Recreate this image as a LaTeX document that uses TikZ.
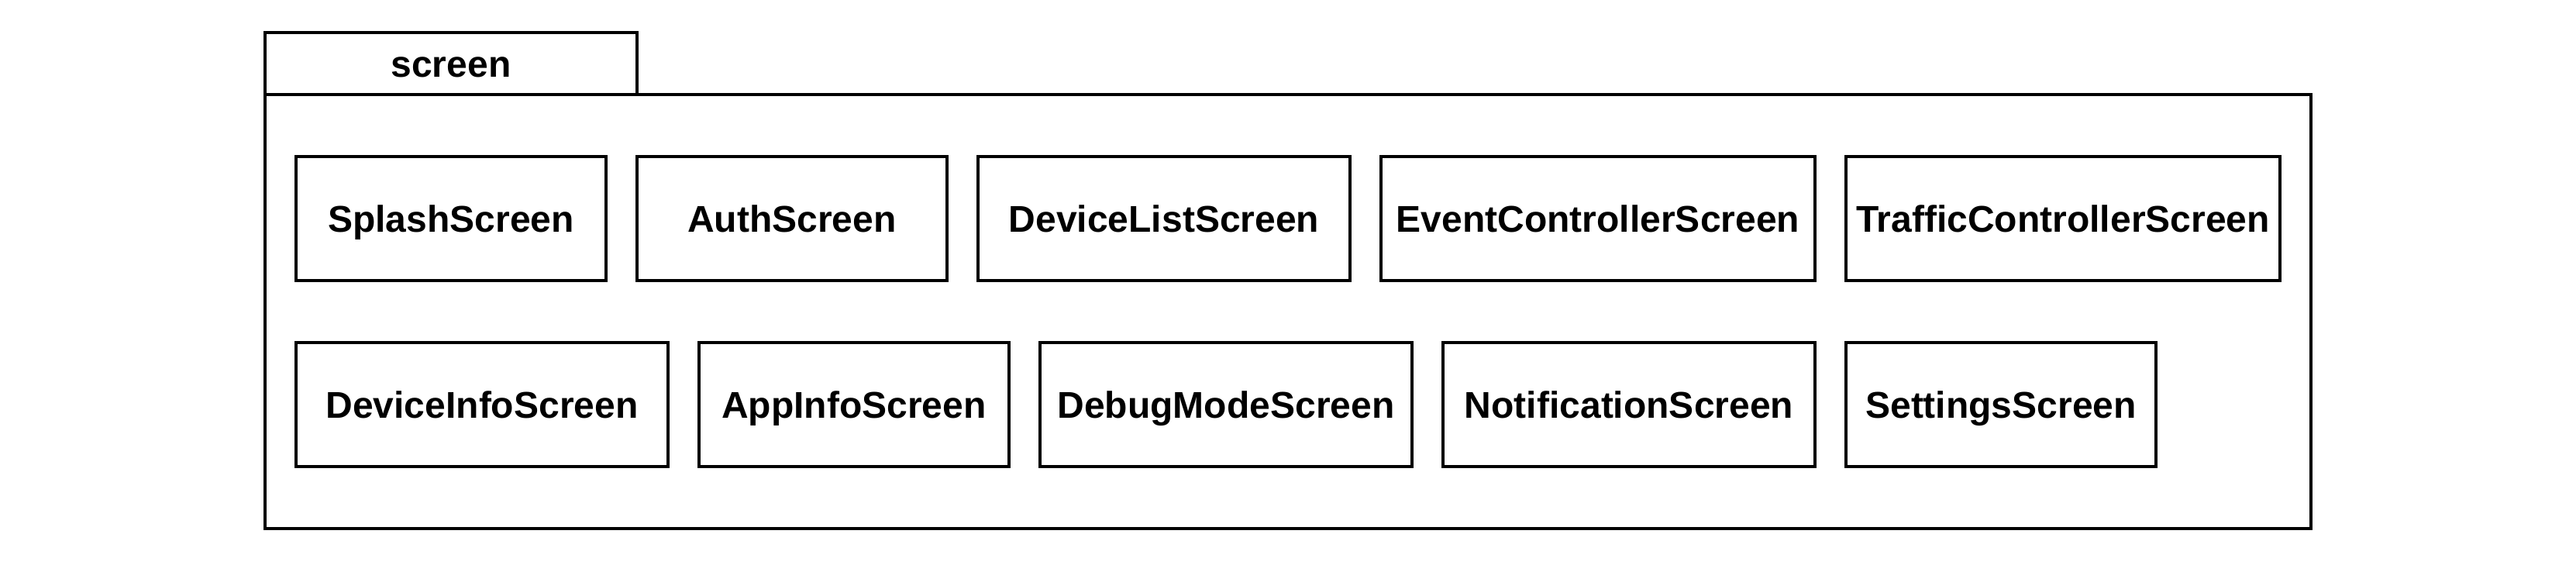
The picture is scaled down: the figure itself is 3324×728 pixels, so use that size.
\documentclass[tikz,border=0pt]{standalone}
\usepackage{fontspec}
\setmainfont{Liberation Sans}
\begin{document}
\begin{tikzpicture}[x=0.5pt,y=-0.5pt,
  every node/.style={font=\fontsize{24pt}{28pt}\selectfont\bfseries},
  cls/.style={draw=black, line width=2pt, rectangle, inner sep=0pt, outer sep=0pt,
    minimum height=80pt, text height=17.2pt, text depth=0pt},
  pkg/.style={draw=black, line width=2pt, rectangle, inner sep=0pt, outer sep=0pt},
  tabbox/.style={draw=black, line width=2pt, rectangle, inner sep=0pt, outer sep=0pt,
    minimum width=240pt, minimum height=40pt, text height=17.2pt, text depth=0pt}]
\useasboundingbox (0,0) rectangle (3324,728);
\node[pkg, minimum width=1320pt, minimum height=280pt] (main) at (1662,402) {};
\node[tabbox] (tab) at (582,82) {screen};
% row 1
\node[cls, minimum width=200pt] (splash) at (582,282) {SplashScreen};
\node[cls, minimum width=200pt] (auth) at (1022,282) {AuthScreen};
\node[cls, minimum width=240pt] (devlist) at (1502,282) {DeviceListScreen};
\node[cls, minimum width=280pt] (event) at (2062,282) {EventControllerScreen};
\node[cls, minimum width=280pt] (traffic) at (2662,282) {TrafficControllerScreen};
% row 2
\node[cls, minimum width=240pt] (devinfo) at (622,522) {DeviceInfoScreen};
\node[cls, minimum width=200pt] (appinfo) at (1102,522) {AppInfoScreen};
\node[cls, minimum width=240pt] (debug) at (1582,522) {DebugModeScreen};
\node[cls, minimum width=240pt] (notif) at (2102,522) {NotificationScreen};
\node[cls, minimum width=200pt] (settings) at (2582,522) {SettingsScreen};
\end{tikzpicture}
\end{document}
